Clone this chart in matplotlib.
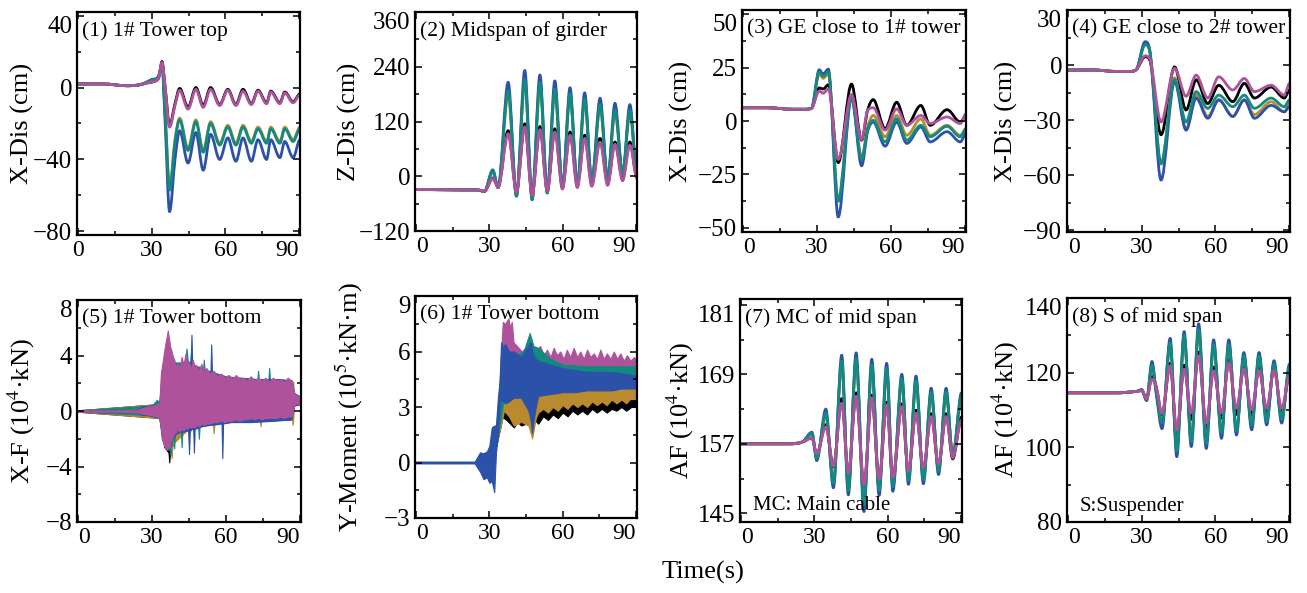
import matplotlib
matplotlib.use("Agg")
import matplotlib.pyplot as plt
from matplotlib.ticker import AutoMinorLocator
from matplotlib.path import Path
from matplotlib.patches import PathPatch

plt.rcParams['font.family'] = ['Liberation Serif', 'DejaVu Serif']
plt.rcParams['mathtext.fontset'] = 'stix'

c_black = '#000000'
c_gold = '#b98a2e'
c_blue = '#2b52a8'
c_teal = '#138a80'
c_mag = '#ae529c'

# ---------------- (1) 1# Tower top, X-Dis (cm)
t1 = [0, 10, 20, 25, 28, 30, 32, 33, 34.2, 35.5, 37.3, 39.5, 41.4, 44.8, 48, 51, 54, 57.7,
      61, 64.3, 67.2, 70.6, 73.3, 76.8, 78.5, 82.2, 84.2, 87.6, 90.4]
p1_black = [2, 2, 1, 1.5, 2.5, 3, 4, 6, 14.5, 0, -21, -9, -0.5, -11, 0, -10, 0, -9.5, -1, -9.5,
            -1, -9, -1.5, -8.5, -2, -8.5, -2.5, -8, -3.5]
p1_gold = [2, 2, 1, 1.5, 3, 4, 5, 7, 13.5, -14, -55, -29, -17, -34, -18, -35, -19, -31, -21, -31,
           -21, -30, -22, -30, -22, -30, -22, -29, -22]
p1_blue = [2, 2, 1, 1.5, 3, 4.5, 5, 7, 13, -20, -69, -40, -24, -42, -25, -46, -26, -40, -28, -41,
           -28, -41, -29, -40, -29, -39, -30, -39, -29]
p1_teal = [2, 2, 1, 1.5, 3, 4, 5, 7, 13, -15, -57, -30, -18, -35, -19, -36, -20, -32, -22, -32,
           -22, -31, -23, -31, -23, -31, -23, -30, -23]
p1_mag = [2, 2, 1, 1.5, 2.5, 3, 4, 6, 14, 0, -22, -10, -1.5, -12, -1, -11, -1, -10, -1.5, -10,
          -2, -9.5, -2, -9, -2.5, -9, -3, -8.5, -4]

# ---------------- (2) Midspan of girder, Z-Dis (cm)
t2 = [0, 20, 25, 28, 31.4, 33.6, 37.7, 41.1, 44.5, 47.5, 50.7, 53.7, 56.8, 59.9, 63, 66, 69,
      71.9, 75.3, 78.4, 81.4, 84.5, 87.5, 90.4]
p2_black = [-29, -30, -30, -33, -4, -22, 100, -33, 115, -40, 109, -30, 104, -22, 97, -18, 90, -16,
            83, -14, 75, -4, 75, -2]
p2_gold = [-29, -30, -30, -33, 10, -25, 180, -42, 205, -50, 197, -35, 185, -24, 173, -20, 163, -12,
           151, -6, 140, 4, 138, 5]
p2_blue = [-29, -30, -30, -33, 14, -25, 206, -43, 232, -49, 222, -36, 209, -25, 194, -22, 183, -14,
           171, -7, 160, 4, 157, 0]
p2_teal = [-29, -30, -30, -33, 12, -25, 187, -44, 212, -52, 205, -37, 191, -26, 180, -22, 169, -14,
           157, -7, 145, 5, 144, 5]
p2_mag = [-29, -30, -30, -33, -5, -24, 93, -35, 108, -42, 102, -33, 97, -28, 90, -25, 83, -22, 75,
          -20, 70, -10, 68, -5]

# ---------------- (3) GE close to 1# tower, X-Dis (cm)
t3 = [0, 10, 20, 25, 27.8, 30.9, 32.5, 34.6, 38.6, 44, 48.1, 50.5, 52.8, 57.6, 62.3, 66.4, 72.1,
      75.9, 82.7, 88.1, 90.4]
p3_black = [6.2, 6.2, 5.5, 5.5, 6, 15.5, 15, 17, -19.5, 17.3, -9, 5, 10, -3.6, 8.8, -2, 7.3, -2,
            5.3, -0.5, 2.5]
p3_gold = [6.2, 6.2, 5.5, 5.5, 6, 22, 20, 22, -37, 12, -17, -3, 2.6, -7.4, 2.6, -6.7, 1, -6.7,
           -2, -6.7, -4]
p3_blue = [6.2, 6.2, 5.5, 5.5, 6, 24, 22, 24.3, -45, 11, -21, -5, -0.5, -11.8, -0.5, -10.5, -2.8,
           -9.8, -5, -9.8, -5.9]
p3_teal = [6.2, 6.2, 5.5, 5.5, 6, 23, 21, 23, -37.6, 11, -18, -4, 0.3, -9.8, 1, -9, -2, -7.4,
           -2.5, -7.4, -3.5]
p3_mag = [6.2, 6.2, 5.5, 5.5, 6, 14, 13, 15, -18, 12.4, -8.7, 5, 6.2, -4.3, 5.7, -2, 2.6, -1.2,
          1.9, -1.2, 3.4]

# ---------------- (4) GE close to 2# tower, X-Dis (cm)
t4 = [0, 10, 20, 25, 27.8, 31.4, 33.2, 37.9, 43.4, 48.1, 52.2, 56.9, 61.4, 67.1, 71.8, 75.9,
      82.7, 88.1, 90.2]
p4_black = [-2.7, -2.7, -3.5, -3.5, -2.5, 4.5, 3, -38, -1, -24.5, -8, -21, -11, -20, -10, -18,
            -12, -18, -13.6]
p4_gold = [-2.7, -2.7, -3.5, -3.5, -2.5, 12, 8, -54, -7, -35, -16.4, -28, -19, -28, -19, -27,
           -20, -25.5, -21]
p4_blue = [-2.7, -2.7, -3.5, -3.5, -2.5, 12.7, 9, -62.7, -9, -35.5, -18, -29, -19, -28, -19, -29,
           -22, -25.5, -22.7]
p4_teal = [-2.7, -2.7, -3.5, -3.5, -2.5, 11, 8, -53.6, -8, -31, -14.5, -23.6, -16.4, -22.7, -16.4,
           -23.6, -18, -22.7, -19]
p4_mag = [-2.7, -2.7, -3.5, -3.5, -2.5, 5, 3.6, -31, -1.8, -17, -5.5, -18, -6.4, -13.6, -7.3,
          -14.5, -11, -16.4, -10]

# ---------------- (5) 1# Tower bottom, X-F: dense signal, upper / lower envelope
t5_black = [0, 33, 35, 36.7, 37, 37.3, 40, 50, 60, 70, 80, 86.5, 87.5, 90.4]
hi5_black = [0.05, 0.5, 3.5, 4.0, 4.0, 4.0, 3.0, 3.0, 2.4, 2.3, 2.3, 2.2, 1.2, 1.0]
lo5_black = [-0.05, -0.5, -2.6, -3.0, -3.7, -3.0, -1.6, -1.0, -0.8, -0.7, -0.65, -0.6, 0.4, 0.5]

t5_gold = [0, 33, 35, 37.7, 38, 38.3, 44.7, 45, 45.3, 54.7, 55, 55.3, 73.7, 74, 74.3, 86.7, 87,
           87.3, 87.5, 90.4]
hi5_gold = [0.05, 0.5, 3.5, 3.5, 3.5, 3.5, 3.0, 3.0, 3.0, 2.5, 2.5, 2.5, 2.2, 2.2, 2.2, 2.1, 2.1,
            2.1, 1.2, 1.0]
lo5_gold = [-0.05, -0.5, -2.5, -2.6, -3.4, -2.4, -1.3, -2.5, -1.3, -0.9, -1.6, -0.9, -0.6, -1.1,
            -0.6, -0.5, -1.0, -0.5, 0.4, 0.5]

t5_teal = [0, 30, 32, 33, 35, 37.2, 37.5, 37.8, 38.7, 39, 39.3, 41.7, 42, 42.3, 43.5, 44, 44.5,
           45.5, 45.8, 46.1, 48.7, 49, 49.3, 50.7, 51, 51.3, 60, 72.7, 73, 73.3, 77.2, 77.5, 77.8,
           86.5, 87.5, 90.4]
hi5_teal = [0.05, 0.4, 0.8, 0.6, 4.0, 4.5, 4.5, 4.4, 3.5, 3.5, 3.5, 3.5, 3.5, 3.5, 3.6, 4.5, 3.6,
            3.5, 4.3, 3.4, 3.2, 3.2, 3.2, 3.0, 3.7, 3.0, 2.5, 2.3, 2.9, 2.3, 2.3, 3.1, 2.3, 2.2,
            1.3, 1.0]
lo5_teal = [-0.05, -0.3, -0.4, -0.5, -2.5, -2.5, -3.2, -2.5, -1.8, -2.7, -1.6, -1.4, -2.6, -1.4,
            -1.3, -1.3, -1.3, -1.2, -1.2, -1.2, -1.1, -2.0, -1.1, -1.0, -1.0, -1.0, -0.7, -0.6,
            -0.6, -0.6, -0.6, -0.6, -0.5, -0.5, 0.4, 0.5]

t5_blue = [0, 24, 26, 28, 30, 32, 33, 34, 35, 36, 37, 38, 40, 44.7, 45, 45.3, 45.7, 46, 46.3,
           46.7, 47, 47.3, 50, 53.7, 54, 54.3, 58.2, 58.5, 58.8, 62, 70, 80, 86.5, 87.5, 90.4]
hi5_blue = [0.05, 0.1, 0.3, 0.35, 0.4, 0.5, 0.6, 3.0, 4.0, 5.0, 4.6, 3.9, 3.2, 3.4, 3.5, 3.4, 3.4,
            5.5, 3.4, 3.3, 3.3, 3.3, 3.0, 2.8, 4.8, 2.8, 2.5, 2.5, 2.5, 2.4, 2.3, 2.3, 2.2, 1.3, 1.0]
lo5_blue = [-0.05, -0.1, -0.3, -0.3, -0.35, -0.45, -0.5, -2.0, -2.5, -2.8, -2.8, -2.0, -1.6, -1.4,
            -3.1, -1.4, -1.4, -1.3, -1.3, -1.3, -3.0, -1.3, -1.1, -1.0, -1.0, -1.0, -0.9, -3.4,
            -0.9, -0.8, -0.8, -0.7, -0.6, 0.4, 0.5]

t5_mag = [0, 15, 24, 26, 28, 30, 32, 33, 33.6, 34.2, 35, 35.8, 36.4, 37, 37.6, 38.3, 39, 39.8,
          40.5, 41.2, 42, 42.8, 43.5, 44.2, 45, 45.8, 46.5, 47.3, 48, 49, 50, 51, 52, 53.5, 55,
          56.5, 58, 59.5, 61, 62.5, 64, 65.5, 67, 68.5, 70, 71.5, 73, 74.5, 76, 77.5, 79, 80.5,
          82, 83.5, 85, 86.5, 87.5, 88, 89, 90.4]
hi5_mag = [0.05, 0.05, 0.1, 0.2, 0.3, 0.35, 0.5, 0.6, 2.7, 3.4, 4.4, 5.2, 5.8, 5.1, 4.4, 4.0, 3.7,
           3.2, 3.4, 3.0, 3.9, 3.3, 4.1, 3.6, 3.5, 3.0, 3.7, 3.2, 3.3, 2.9, 3.4, 2.8, 3.1, 2.7, 2.9,
           2.5, 2.7, 2.4, 2.6, 2.3, 2.6, 2.3, 2.4, 2.2, 2.5, 2.2, 2.4, 2.2, 2.4, 2.1, 2.4, 2.2, 2.3,
           2.1, 2.4, 2.2, 1.4, 1.2, 1.1, 1.0]
lo5_mag = [-0.05, -0.05, -0.1, -0.2, -0.25, -0.3, -0.4, -0.5, -1.2, -2.0, -2.5, -2.8, -2.6, -2.7,
           -2.2, -1.9, -1.6, -1.5, -1.3, -1.5, -1.3, -1.4, -1.2, -1.3, -1.1, -1.2, -1.1, -1.2, -1.0,
           -1.1, -0.9, -1.0, -0.9, -0.9, -0.8, -0.8, -0.7, -0.8, -0.7, -0.7, -0.6, -0.7, -0.6,
           -0.6, -0.5, -0.6, -0.5, -0.6, -0.5, -0.5, -0.5, -0.5, -0.4, -0.5, -0.4, -0.4, 0.3, 0.5,
           0.5, 0.5]

# ---------------- (6) 1# Tower bottom, Y-Moment: upper / lower envelope
t6_black = [0, 31, 33, 35.5, 36, 37, 38.5, 40, 41.5, 43, 45, 47, 48.5, 50, 52, 54, 56, 58, 60, 62,
            64, 66, 68, 70, 72, 74, 76, 78, 80, 82, 84, 86, 88, 90.4]
hi6_black = [0.0, 0.0, 1.5, 3.0, 3.3, 3.3, 3.3, 3.2, 3.2, 3.2, 3.2, 3.0, 3.0, 3.1, 3.2, 3.3, 3.3,
             3.3, 3.3, 3.3, 3.3, 3.3, 3.4, 3.4, 3.4, 3.4, 3.4, 3.4, 3.4, 3.4, 3.4, 3.4, 3.4, 3.4]
lo6_black = [0.0, 0.0, 1.0, 2.5, 2.4, 2.3, 2.1, 1.9, 2.2, 2.0, 2.1, 2.0, 2.3, 2.1, 2.5, 2.3, 2.6,
             2.4, 2.7, 2.5, 2.8, 2.6, 2.8, 2.6, 2.9, 2.7, 2.9, 2.7, 2.9, 2.8, 3.0, 2.8, 3.0, 3.0]

t6_gold = [0, 31, 33, 35.5, 36, 38, 40, 43, 46, 47.5, 49, 50, 52, 54, 56, 58, 60, 62, 64, 66, 68,
           70, 72, 74, 76, 78, 80, 82, 84, 86, 88, 90.4]
hi6_gold = [0.0, 0.0, 1.5, 3.5, 4.2, 4.5, 4.2, 4.0, 4.0, 3.5, 3.8, 3.9, 3.9, 3.9, 3.9, 3.9, 3.9,
            3.9, 3.9, 3.9, 3.9, 3.9, 3.9, 3.9, 3.9, 3.9, 3.9, 3.9, 3.9, 4.0, 4.0, 4.0]
lo6_gold = [0.0, 0.0, 1.0, 2.5, 2.8, 2.5, 2.0, 2.2, 2.0, 1.3, 2.4, 2.7, 2.9, 2.7, 3.0, 2.8, 3.1,
            2.9, 3.2, 3.0, 3.2, 3.0, 3.3, 3.1, 3.3, 3.1, 3.4, 3.2, 3.4, 3.2, 3.5, 3.4]

t6_mag = [0, 31, 33, 35.5, 36.5, 37.8, 38.5, 39.2, 39.9, 41.3, 43.3, 44.7, 46.4, 47.4, 48.8,
          50.8, 52.2, 53.6, 55, 56.3, 57.7, 59, 60.4, 61.7, 63.1, 64.5, 65.9, 67.2, 68.6, 70,
          71.4, 72.7, 74.1, 75.4, 76.8, 78.1, 79.5, 80.9, 82.3, 83.6, 85, 86.3, 87.7, 89.1, 90.4]
hi6_mag = [0.0, 0.0, 1.5, 7.6, 7.5, 7.8, 7.3, 7.6, 6.5, 6.3, 6.0, 6.2, 6.8, 6.5, 6.0,
           6.3, 5.8, 6.1, 5.7, 6.2, 5.8, 6.0, 5.6, 6.1, 5.7, 6.2, 5.7, 6.0, 5.6, 6.1, 5.7, 5.9,
           5.6, 6.1, 5.6, 5.9, 5.6, 6.0, 5.6, 5.9, 5.5, 5.8, 5.5, 5.7, 5.5]
lo6_mag = [0.0, 0.0, 1.0, 4.0, 5.0, 5.2, 5.0, 5.3, 5.2, 5.2, 5.1, 5.2, 5.1, 5.0, 5.1,
           5.0, 5.1, 5.0, 5.1, 5.0, 5.1, 5.0, 5.1, 5.0, 5.1, 5.0, 5.1, 5.0, 5.1, 5.0, 5.1, 5.0,
           5.1, 5.0, 5.1, 5.0, 5.1, 5.0, 5.1, 5.0, 5.1, 5.2, 5.1, 5.2, 5.2]

t6_teal = [0, 31, 33, 36, 40, 44, 46.5, 48, 50, 55, 60, 70, 80, 90.4]
hi6_teal = [0.0, 0.0, 1.5, 6.0, 5.8, 6.0, 7.0, 6.3, 6.2, 5.6, 5.3, 5.2, 5.2, 5.2]
lo6_teal = [0.0, 0.0, 1.0, 3.5, 3.8, 4.0, 4.0, 3.5, 4.0, 4.3, 4.5, 4.6, 4.6, 4.7]

t6_blue = [0, 24, 26.2, 27.6, 29, 30, 31, 32, 32.7, 33.5, 34.2, 34.8, 35.5, 36.5, 38, 40, 43, 46,
           47, 47.5, 48, 49, 50, 55, 60, 65, 70, 75, 80, 85, 90.4]
hi6_blue = [0.05, 0.05, 0.55, 0.5, 0.6, 0.9, 1.9, 2.0, 2.0, 3.5, 4.4, 6.5, 6.2, 6.4, 6.0, 6.0, 5.7,
            6.3, 6.5, 6.0, 5.8, 5.6, 5.5, 5.3, 5.1, 5.0, 4.9, 4.9, 4.9, 4.8, 4.7]
lo6_blue = [-0.05, -0.05, -0.5, -0.9, -0.8, -1.1, -1.0, -1.6, 0.5, 1.5, 3.0, 3.5, 3.3, 3.2, 3.3,
            3.5, 3.5, 2.8, 2.2, 1.6, 2.2, 3.0, 3.6, 3.7, 3.8, 3.8, 3.9, 3.9, 3.9, 4.0, 4.0]

# ---------------- (7) MC of mid span, AF (10^4 kN)
t7 = [0, 20, 25, 29, 31, 34.7, 37.8, 41.2, 43.9, 47.1, 50.3, 53.5, 56.5, 59.6, 62.1, 65.8, 68.5,
      71.6, 74.6, 77.8, 80.8, 83.9, 86.6, 90.2]
p7_black = [157, 157, 157.3, 158, 155.2, 160.3, 153, 164.8, 151.6, 165.8, 149.6, 165.4, 150.5,
            164.2, 150.8, 163.9, 151.9, 162.8, 152.5, 162.2, 153.1, 162.2, 154.4, 161.6]
p7_gold = [157, 157, 157.3, 158.6, 154.8, 161.8, 150.6, 170.6, 149.5, 171, 147, 170, 149.5, 169.4,
           150.1, 167.6, 151.1, 167.3, 151.2, 165.4, 152.7, 165.4, 155.3, 164.8]
p7_blue = [157, 157, 157.3, 159, 154.1, 163, 149.4, 172.3, 148.2, 172.7, 145.3, 171.6, 148.1,
           170.9, 148.8, 169, 150, 168.7, 150.1, 166.6, 151.7, 166.6, 154.5, 165.8]
p7_teal = [157, 157, 157.3, 158.8, 154.5, 162.3, 150.2, 171.3, 149, 171.7, 146.5, 170.6, 149, 170,
           149.6, 168.2, 150.7, 167.9, 150.8, 165.9, 152.3, 165.9, 155, 165.2]
p7_mag = [157, 157, 157.3, 158, 155.3, 159.9, 153.2, 164, 152, 165.2, 150, 164.9, 150.9, 163.7,
          151.2, 163.4, 152.3, 162.3, 152.9, 161.7, 153.5, 161.7, 154.7, 161.1]

# ---------------- (8) S of mid span, AF (10^4 kN)
t8 = [0, 20, 28, 30, 32, 34.2, 36, 38.3, 41.6, 44.3, 47.3, 50.2, 53.2, 56.3, 59.3, 62.5, 65.5,
      68.6, 71.6, 74.8, 77.8, 80.9, 83.9, 87, 90.2]
p8_black = [114.6, 114.6, 115, 115.2, 113, 119, 116, 108.5, 122.5, 103, 122, 107.5, 125.5, 105,
            121.5, 107.8, 123.5, 108.8, 121.8, 108.6, 121.5, 109, 121.5, 109, 119.5]
p8_gold = [114.6, 114.6, 115, 115.3, 113, 121.5, 114.8, 107, 127.5, 99.8, 129.3, 102.2, 130.8,
           101.7, 127, 104.3, 127, 105, 124, 106.5, 124, 107.5, 121.8, 108, 121]
p8_blue = [114.6, 114.6, 115, 115.5, 112.5, 123, 114, 105, 129.2, 97.5, 131, 100.2, 133.1, 99.7,
           128.8, 102.4, 128.8, 103.3, 125.4, 104.7, 125.4, 106, 123.2, 106.5, 122.3]
p8_teal = [114.6, 114.6, 115, 115.3, 112.8, 122, 114.5, 106.5, 128, 99, 130, 101.5, 131.5, 101,
           127.5, 103.8, 127.5, 104.5, 124.5, 106, 124.5, 107, 122.3, 107.5, 121.5]
p8_mag = [114.6, 114.6, 115, 115.2, 113, 118.2, 116, 109.2, 121.8, 104.7, 120.9, 109.2, 124.5,
          106.5, 120.5, 109.2, 122.5, 110.5, 120.9, 110.1, 120.5, 110.5, 120.5, 110.5, 118.9]

W, H = 1307, 593
fig = plt.figure(figsize=(W / 100, H / 100), dpi=100)


def make_ax(l, r, t, b):
    return fig.add_axes([l / W, 1 - b / H, (r - l) / W, (b - t) / H])


def style(ax, box, yticks, ylim, ylabel, title, lab_off, note=None, shift0=True):
    wpx = box[1] - box[0]
    hpx = box[3] - box[2]
    ax.set_xlim(-0.4, 90.4)
    ax.set_xticks([0, 30, 60, 90])
    ax.set_ylim(*ylim)
    ax.set_yticks(yticks)
    ax.xaxis.set_minor_locator(AutoMinorLocator(2))
    ax.yaxis.set_minor_locator(AutoMinorLocator(2))
    ax.tick_params(which='both', direction='in', top=True, right=True, width=1.1)
    ax.tick_params(axis='x', labelsize=17)
    ax.tick_params(axis='y', labelsize=18)
    ax.tick_params(which='major', length=5)
    ax.tick_params(which='minor', length=3)
    for s in ax.spines.values():
        s.set_linewidth(1.6)
    ax.set_ylabel(ylabel, fontsize=19)
    ax.yaxis.set_label_coords(-lab_off / wpx, 0.5)
    ax.yaxis.get_major_ticks()[-1].label1.set_verticalalignment('top')
    ax.xaxis.get_major_ticks()[-1].label1.set_horizontalalignment('right')
    if shift0:
        ax.xaxis.get_major_ticks()[0].label1.set_horizontalalignment('left')
    ax.text(5 / wpx, 1 - 19 / hpx, title, transform=ax.transAxes, fontsize=15.6,
            va='center', ha='left')
    if note:
        ax.text(13 / wpx, 16 / hpx, note, transform=ax.transAxes, fontsize=15,
                va='center', ha='left', zorder=1)


def smooth_curve(ax, t, y, color):
    # draws the typed points as one smooth Bezier path through every point
    n = len(t)
    m = []
    for i in range(n):
        if i == 0 or i == n - 1 or (y[i] - y[i - 1]) * (y[i + 1] - y[i]) <= 0:
            m.append(0.0)
        else:
            s1 = (y[i] - y[i - 1]) / (t[i] - t[i - 1])
            s2 = (y[i + 1] - y[i]) / (t[i + 1] - t[i])
            s = (y[i + 1] - y[i - 1]) / (t[i + 1] - t[i - 1])
            lim = 3 * min(abs(s1), abs(s2))
            m.append(max(-lim, min(lim, s)))
    verts = [(t[0], y[0])]
    codes = [Path.MOVETO]
    for i in range(n - 1):
        d = (t[i + 1] - t[i]) / 3
        verts += [(t[i] + d, y[i] + m[i] * d), (t[i + 1] - d, y[i + 1] - m[i + 1] * d),
                  (t[i + 1], y[i + 1])]
        codes += [Path.CURVE4] * 3
    ax.add_patch(PathPatch(Path(verts, codes), fill=False, edgecolor=color, lw=2.0,
                           joinstyle='round', capstyle='round'))


def lines(ax, t, series):
    for y, c in series:
        smooth_curve(ax, t, y, c)


def bands(ax, series):
    for t, lo, hi, c in series:
        ax.fill_between(t, lo, hi, color=c, lw=0.8)


boxes = [(77, 300, 12, 235), (415, 637, 12, 231), (742, 966, 10, 232), (1067, 1290, 10, 232),
         (77, 301, 300, 522), (415, 637, 296, 518), (740, 962, 299, 522), (1067, 1290, 298, 522)]
axs = [make_ax(*b) for b in boxes]

lines(axs[0], t1, [(p1_black, c_black), (p1_gold, c_gold), (p1_blue, c_blue),
                   (p1_teal, c_teal), (p1_mag, c_mag)])
style(axs[0], boxes[0], [-80, -40, 0, 40], (-82, 42), 'X-Dis (cm)', '(1) 1# Tower top', 43,
      shift0=False)

lines(axs[1], t2, [(p2_black, c_black), (p2_gold, c_gold), (p2_blue, c_blue),
                   (p2_teal, c_teal), (p2_mag, c_mag)])
style(axs[1], boxes[1], [-120, 0, 120, 240, 360], (-120, 360), 'Z-Dis (cm)',
      '(2) Midspan of girder', 54)

lines(axs[2], t3, [(p3_black, c_black), (p3_gold, c_gold), (p3_blue, c_blue),
                   (p3_teal, c_teal), (p3_mag, c_mag)])
style(axs[2], boxes[2], [-50, -25, 0, 25, 50], (-52, 52), 'X-Dis (cm)',
      '(3) GE close to 1# tower', 49)

lines(axs[3], t4, [(p4_black, c_black), (p4_gold, c_gold), (p4_blue, c_blue),
                   (p4_teal, c_teal), (p4_mag, c_mag)])
style(axs[3], boxes[3], [-90, -60, -30, 0, 30], (-91, 30), 'X-Dis (cm)',
      '(4) GE close to 2# tower', 49)

bands(axs[4], [(t5_black, lo5_black, hi5_black, c_black), (t5_gold, lo5_gold, hi5_gold, c_gold),
               (t5_teal, lo5_teal, hi5_teal, c_teal), (t5_blue, lo5_blue, hi5_blue, c_blue),
               (t5_mag, lo5_mag, hi5_mag, c_mag)])
style(axs[4], boxes[4], [-8, -4, 0, 4, 8], (-8, 8), r'X-F (10$^{4}$·kN)',
      '(5) 1# Tower bottom', 40)

bands(axs[5], [(t6_black, lo6_black, hi6_black, c_black), (t6_gold, lo6_gold, hi6_gold, c_gold),
               (t6_mag, lo6_mag, hi6_mag, c_mag), (t6_teal, lo6_teal, hi6_teal, c_teal),
               (t6_blue, lo6_blue, hi6_blue, c_blue)])
style(axs[5], boxes[5], [-3, 0, 3, 6, 9], (-3, 9), r'Y-Moment (10$^{5}$·kN·m)',
      '(6) 1# Tower bottom', 50)

lines(axs[6], t7, [(p7_black, c_black), (p7_gold, c_gold), (p7_blue, c_blue),
                   (p7_teal, c_teal), (p7_mag, c_mag)])
style(axs[6], boxes[6], [145, 157, 169, 181], (143.5, 182), r'AF (10$^{4}$·kN)',
      '(7) MC of mid span', 44, note='MC: Main cable')

lines(axs[7], t8, [(p8_black, c_black), (p8_gold, c_gold), (p8_blue, c_blue),
                   (p8_teal, c_teal), (p8_mag, c_mag)])
style(axs[7], boxes[7], [80, 100, 120, 140], (80, 140), r'AF (10$^{4}$·kN)',
      '(8) S of mid span', 46, note='S:Suspender')

fig.text(703 / W, 1 - 572 / H, 'Time(s)', ha='center', va='center', fontsize=19)

fig.savefig('out.png', dpi=100)
